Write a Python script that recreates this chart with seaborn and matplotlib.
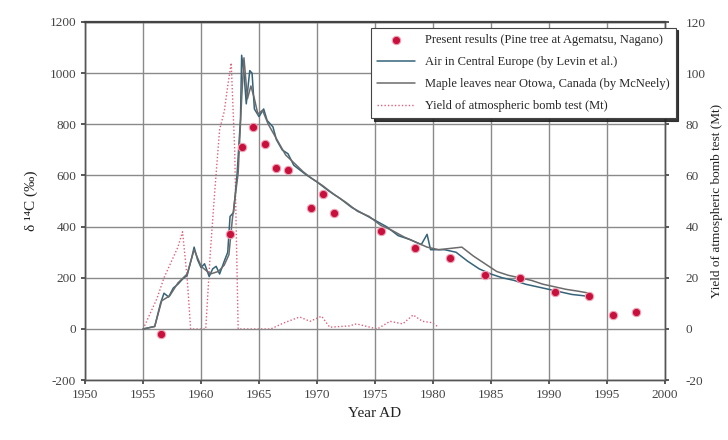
import matplotlib
matplotlib.use("Agg")
import matplotlib.pyplot as plt
import seaborn as sns
import pandas as pd

# Pine tree ring results (Agematsu, Nagano)
pine_year = [1956.5, 1962.5, 1963.5, 1964.5, 1965.5, 1966.5, 1967.5, 1969.5, 1970.5,
             1971.5, 1975.5, 1978.5, 1981.5, 1984.5, 1987.5, 1990.5, 1993.5, 1995.5, 1997.5]
pine_d14c = [-20, 370, 710, 790, 725, 628, 620, 472, 527,
             452, 382, 316, 277, 210, 199, 146, 129, 55, 66]

# Air in Central Europe (Levin et al.)
air_year = [1955.0, 1955.5, 1956.0, 1956.5, 1956.8, 1957.2, 1957.6, 1958.0, 1958.4, 1958.8,
            1959.2, 1959.4, 1959.7, 1960.0, 1960.3, 1960.7, 1961.0, 1961.3, 1961.6, 1962.0,
            1962.3, 1962.5, 1962.8, 1963.1, 1963.4, 1963.5, 1963.7, 1963.9, 1964.2, 1964.4,
            1964.6, 1965.0, 1965.4, 1965.7, 1966.2, 1966.5, 1967.0, 1967.5, 1968.0, 1969.0,
            1970.0, 1971.0, 1972.0, 1973.0, 1974.0, 1975.0, 1976.0, 1977.0, 1978.0, 1979.0,
            1979.5, 1979.8, 1981.0, 1982.0, 1983.0, 1984.0, 1985.0, 1986.0, 1987.0, 1988.0,
            1989.0, 1990.0, 1991.0, 1992.0, 1993.0, 1993.6]
air_d14c = [0, 5, 10, 100, 140, 125, 160, 175, 195, 210,
            280, 320, 270, 240, 255, 205, 235, 245, 215, 265,
            300, 440, 455, 600, 820, 1070, 1000, 880, 1010, 1000,
            860, 830, 860, 815, 790, 740, 700, 685, 640, 605,
            575, 540, 510, 475, 450, 425, 400, 365, 350, 330,
            370, 310, 310, 300, 265, 235, 215, 200, 190, 175,
            165, 155, 145, 135, 130, 125]

# Maple leaves near Ottawa, Canada (McNeely)
maple_year = [1955.0, 1956.0, 1956.6, 1957.3, 1958.0, 1958.8, 1959.4, 1960.0, 1960.8, 1961.5,
              1962.0, 1962.4, 1962.7, 1963.2, 1963.5, 1963.7, 1964.0, 1964.3, 1964.6, 1964.9,
              1965.3, 1965.8, 1966.3, 1966.8, 1967.3, 1968.0, 1968.8, 1969.5, 1970.5, 1971.5,
              1972.5, 1973.5, 1974.5, 1975.5, 1976.5, 1977.5, 1978.5, 1979.5, 1980.5, 1981.5,
              1982.5, 1983.5, 1984.5, 1985.5, 1986.5, 1987.5, 1988.5, 1989.5, 1990.5, 1991.5,
              1992.5, 1993.5]
maple_d14c = [0, 10, 110, 130, 180, 215, 310, 245, 215, 225,
              250, 290, 430, 610, 900, 1060, 900, 950, 900, 840,
              855, 800, 760, 720, 680, 650, 615, 590, 560, 525,
              495, 460, 440, 405, 385, 360, 340, 320, 310, 315,
              320, 285, 255, 225, 210, 200, 190, 175, 165, 155,
              148, 140]

# Yield of atmospheric bomb tests (Mt)
bomb_year = [1955.0, 1955.6, 1956.2, 1956.8, 1957.4, 1958.0, 1958.4, 1958.8, 1959.1, 1960.4,
             1960.8, 1961.2, 1961.6, 1962.0, 1962.3, 1962.6, 1962.9, 1963.2, 1966.0, 1967.1,
             1968.5, 1969.4, 1970.4, 1971.1, 1972.8, 1973.4, 1975.2, 1976.3, 1977.4, 1978.3,
             1979.1, 1979.9, 1980.4]
bomb_mt = [0, 6, 12, 20, 26, 32, 38, 20, 0, 0,
           30, 55, 78, 85, 95, 104, 70, 0, 0, 2.3,
           4.7, 3, 5, 0.7, 1.2, 2, 0, 3, 2, 5.5,
           3, 2.5, 1]

x_ticks = [1950, 1955, 1960, 1965, 1970, 1975, 1980, 1985, 1990, 1995, 2000]
y_ticks = [-200, 0, 200, 400, 600, 800, 1000, 1200]
y2_ticks = [-20, 0, 20, 40, 60, 80, 100, 120]

sns.set_theme(style="white")
plt.rcParams["font.family"] = ["Liberation Serif", "DejaVu Serif"]
plt.rcParams["axes.unicode_minus"] = False

fig, ax = plt.subplots(figsize=(7.28, 4.40), dpi=100)
fig.subplots_adjust(left=0.117, right=0.913, top=0.95, bottom=0.136)

ax2 = ax.twinx()

air = pd.DataFrame({"year": air_year, "d14c": air_d14c})
maple = pd.DataFrame({"year": maple_year, "d14c": maple_d14c})
pine = pd.DataFrame({"year": pine_year, "d14c": pine_d14c})
bomb = pd.DataFrame({"year": bomb_year, "mt": bomb_mt})

ax.set_xlim(1950, 2000)
ax.set_ylim(-200, 1200)
ax2.set_ylim(-20, 120)
ax.set_xticks(x_ticks)
ax.set_yticks(y_ticks)
ax2.set_yticks(y2_ticks)
ax.grid(True, color="#8a8a8a", linewidth=1.0)
ax.set_axisbelow(True)

sns.lineplot(data=bomb, x="year", y="mt", ax=ax2, sort=False, estimator=None,
             color="#e0607a", linestyle=(0, (1, 1.5)), linewidth=1.0,
             label="Yield of atmospheric bomb test (Mt)", legend=False)
sns.lineplot(data=air, x="year", y="d14c", ax=ax, sort=False, estimator=None,
             color="#35637a", linewidth=1.1, label="Air in Central Europe (by Levin et al.)",
             legend=False)
sns.lineplot(data=maple, x="year", y="d14c", ax=ax, sort=False, estimator=None,
             color="#6b6b6b", linewidth=1.1,
             label="Maple leaves near Otowa, Canada (by McNeely)", legend=False)
sns.scatterplot(data=pine, x="year", y="d14c", ax=ax, color="#c8103c", s=36,
                edgecolor="#f0a0b4", linewidth=0.8, zorder=5,
                label="Present results (Pine tree at Agematsu, Nagano)", legend=False)

ax.set_zorder(ax2.get_zorder() + 1)
ax.patch.set_visible(False)

for a in (ax, ax2):
    for s in a.spines.values():
        s.set_color("#555555")
        s.set_linewidth(1.0)
    a.tick_params(labelsize=9.5, colors="#444444", length=3, direction="out")
ax.spines["top"].set_linewidth(1.6)
ax.spines["top"].set_color("#444444")
ax.tick_params(axis="both", left=True, bottom=True)
ax2.tick_params(axis="y", right=True, pad=12)

ax.set_xlabel("Year AD", fontsize=11, color="#222222")
ax.set_ylabel("δ ¹⁴C (‰)", fontsize=11, color="#222222", labelpad=8)
ax2.set_ylabel("Yield of atmospheric bomb test (Mt)", fontsize=9.5, color="#222222",
               labelpad=4)
ax2.set_xlabel("")

h1, l1 = ax.get_legend_handles_labels()
h2, l2 = ax2.get_legend_handles_labels()
order = [2, 0, 1]
handles = [h1[i] for i in order] + h2
labels = [l1[i] for i in order] + l2
leg = ax.legend(handles, labels, loc="upper right", bbox_to_anchor=(0.928, 0.937),
                bbox_transform=fig.transFigure, borderaxespad=0, fontsize=9,
                frameon=True, fancybox=False,
                shadow={"color": "#222222", "alpha": 0.9}, edgecolor="#444444",
                framealpha=1, labelspacing=0.8, handlelength=3.0, borderpad=0.5)
leg.get_frame().set_linewidth(0.8)

fig.savefig("out.png", dpi=100)
